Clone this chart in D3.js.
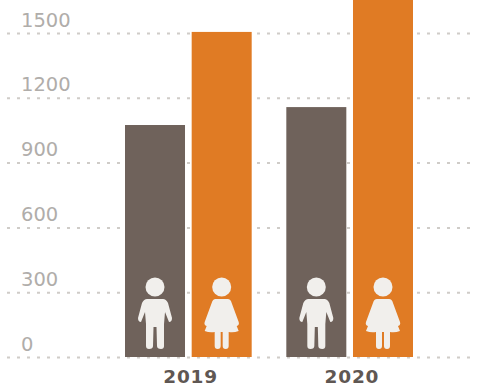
<!DOCTYPE html>
<html>
<head>
<meta charset="utf-8">
<script src="https://cdn.jsdelivr.net/npm/d3@7/dist/d3.min.js"></script>
<style>
html,body{margin:0;padding:0;background:#fff}
svg{display:block}
</style>
</head>
<body>
<svg id="chart" width="478" height="389"></svg>
<script>
const years = ["2019", "2020"];
const groups = ["boys", "girls"];
const boys = [1074, 1157];
const girls = [1505, 1660];
const ticks = [0, 300, 600, 900, 1200, 1500];
const groupColors = ["#6f625b", "#e07b24"];

const svg = d3.select("#chart");

const y = d3.scaleLinear().domain([0, 1500]).range([357, 33]);
const x0 = d3.scaleBand().domain(years).range([115.5, 422]).paddingInner(0.1).paddingOuter(0);
const x = d3.scaleBand().domain(groups).range([9.5, x0.bandwidth() - 9]).paddingInner(0.1);
const color = d3.scaleOrdinal().domain(groups).range(groupColors);

// Dotted gridlines run the full width and sit behind the bars
const yAxis = d3.axisLeft(y).tickValues(ticks).tickSize(0).tickFormat(d3.format("d"));
const axisG = svg.append("g").call(yAxis);
axisG.select(".domain").remove();
axisG.selectAll(".tick line")
  .attr("x1", 7).attr("x2", 476)
  .attr("stroke", "#cfccc8").attr("stroke-width", 2).attr("stroke-dasharray", "3 7");
axisG.selectAll(".tick text")
  .attr("x", 21).attr("dy", null).attr("y", -7)
  .attr("text-anchor", "start")
  .attr("font-family", "DejaVu Sans").attr("font-size", 19.5)
  .attr("fill", "#b0adaa");

const rows = years.map((yr, i) => ({ year: yr, values: [boys[i], girls[i]] }));

const yearG = svg.selectAll("g.year").data(rows).join("g")
  .attr("class", "year")
  .attr("transform", d => `translate(${x0(d.year)},0)`);

const cells = yearG.selectAll("g.cell")
  .data(d => groups.map((g, i) => ({ group: g, value: d.values[i] })))
  .join("g").attr("class", "cell");

cells.append("rect")
  .attr("x", d => x(d.group))
  .attr("width", x.bandwidth())
  .attr("y", d => y(d.value))
  .attr("height", d => y(0) - y(d.value))
  .attr("fill", d => color(d.group));

// Child pictograms, drawn in a local frame centred on each bar
const boyPath = "M-8,-20 Q-11,-20 -13,-16 L-17,-1 Q-17,3 -14,3 L-10,-7 L-9,5 L-9,27 Q-9,30 -6,30 Q-2,30 -2,27 L-1.5,8 L1.5,8 L2,27 Q2,30 6,30 Q9,30 9,27 L9,5 L10,-7 L14,3 Q17,3 17,-1 L13,-16 Q11,-20 8,-20 Z";
const girlPath = "M-6,-20 Q-9,-20 -10,-16 L-17,3 Q-18,6 -15,7 L-17,12 Q-12,14 -7,13 L-7,27 Q-7,30 -4,30 Q-1,30 -1,27 L-1,13 L1,13 L1,27 Q1,30 4,30 Q7,30 7,27 L7,13 Q12,14 17,12 L15,7 Q18,6 17,3 L10,-16 Q9,-20 6,-20 Z";

const icons = cells.append("g")
  .attr("transform", d => `translate(${x(d.group) + x.bandwidth() / 2},${y(0) - 38})`);
icons.append("circle").attr("cy", -32).attr("r", 9.5).attr("fill", "#f1efec");
icons.append("path")
  .attr("d", d => d.group === "boys" ? boyPath : girlPath)
  .attr("fill", "#f1efec");

// Year labels under each pair of bars
yearG.append("text")
  .attr("x", x0.bandwidth() / 2 + 2.5)
  .attr("y", 382.5)
  .attr("text-anchor", "middle")
  .attr("font-family", "DejaVu Sans").attr("font-weight", 700).attr("font-size", 18.5)
  .attr("letter-spacing", 0.8)
  .attr("fill", "#5f5753")
  .text(d => d.year);
</script>
</body>
</html>
